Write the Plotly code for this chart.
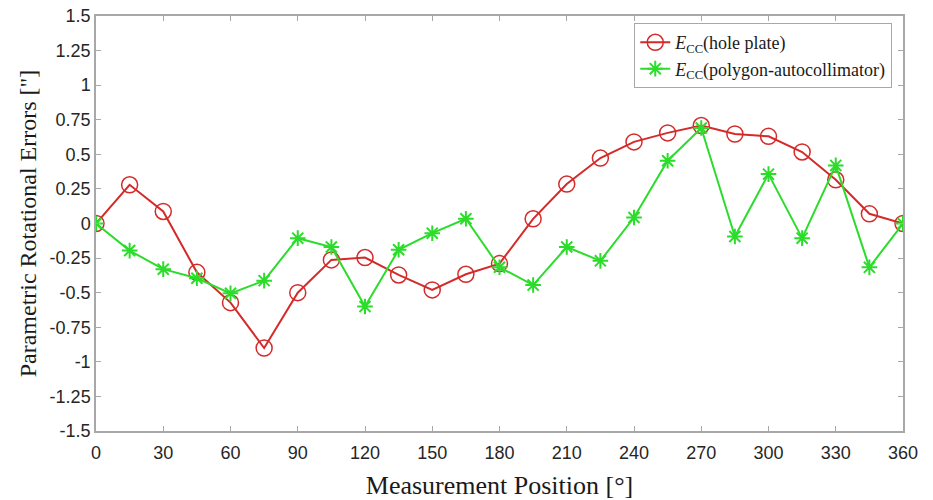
import plotly.graph_objects as go

positions = [0, 15, 30, 45, 60, 75, 90, 105, 120, 135, 150, 165, 180, 195, 210, 225,
             240, 255, 270, 285, 300, 315, 330, 345, 360]
hole_plate = [0, 0.28, 0.087, -0.353, -0.572, -0.90, -0.50, -0.263, -0.246, -0.372,
              -0.48, -0.367, -0.29, 0.034, 0.285, 0.473, 0.59, 0.655, 0.708, 0.647,
              0.63, 0.517, 0.316, 0.07, 0]
polygon = [0, -0.196, -0.33, -0.396, -0.505, -0.413, -0.106, -0.17, -0.60, -0.19,
           -0.07, 0.034, -0.316, -0.445, -0.17, -0.27, 0.043, 0.454, 0.69, -0.094,
           0.357, -0.106, 0.42, -0.317, 0]

x_ticks = [0, 30, 60, 90, 120, 150, 180, 210, 240, 270, 300, 330, 360]
y_ticks = [1.5, 1.25, 1, 0.75, 0.5, 0.25, 0, -0.25, -0.5, -0.75, -1, -1.25, -1.5]
y_tick_labels = ["1.5", "1.25", "1", "0.75", "0.5", "0.25", "0", "-0.25", "-0.5",
                 "-0.75", "-1", "-1.25", "-1.5"]

red = "#d42a2a"
green = "#2bdc2b"

fig = go.Figure()
fig.add_trace(go.Scatter(
    x=positions, y=hole_plate, mode="lines+markers",
    name="<i>E</i><sub>CC</sub>(hole plate)",
    line=dict(color=red, width=2),
    marker=dict(symbol="circle-open", size=16, color=red, line=dict(width=1.5, color=red)),
))
fig.add_trace(go.Scatter(
    x=positions, y=polygon, mode="lines+markers",
    name="<i>E</i><sub>CC</sub>(polygon-autocollimator)",
    line=dict(color=green, width=2),
    marker=dict(symbol="asterisk-open", size=13, color=green, line=dict(width=2, color=green)),
))

axis_common = dict(
    showline=True, linecolor="#a8a8a8", linewidth=1.5, mirror="ticks",
    ticks="inside", ticklen=5, tickcolor="#a8a8a8", tickwidth=1,
    showgrid=False, zeroline=False, automargin=False,
    tickfont=dict(family="Liberation Sans, Arial", size=18, color="#262626"),
)

fig.update_xaxes(
    range=[0, 360], tickmode="array", tickvals=x_ticks,
    ticklabelstandoff=5,
    title=dict(text="Measurement Position [°]", standoff=20,
               font=dict(family="Liberation Serif, Times New Roman", size=26, color="#1a1a1a")),
    **axis_common,
)
fig.update_yaxes(
    range=[-1.5, 1.5], tickmode="array", tickvals=y_ticks, ticktext=y_tick_labels,
    title=dict(text="Parametric Rotational Errors [\"]", standoff=6,
               font=dict(family="Liberation Serif, Times New Roman", size=24, color="#1a1a1a")),
    **axis_common,
)

fig.update_layout(
    width=933, height=500,
    margin=dict(l=96, r=30, t=16, b=69),
    plot_bgcolor="white", paper_bgcolor="white",
    legend=dict(
        x=0.667, y=0.983, xanchor="left", yanchor="top",
        bordercolor="#a8a8a8", borderwidth=1, bgcolor="white",
        font=dict(family="Liberation Serif, Times New Roman", size=18, color="#1a1a1a"),
        tracegroupgap=0, itemwidth=30,
    ),
    showlegend=True,
)

fig.write_html("out.html")
